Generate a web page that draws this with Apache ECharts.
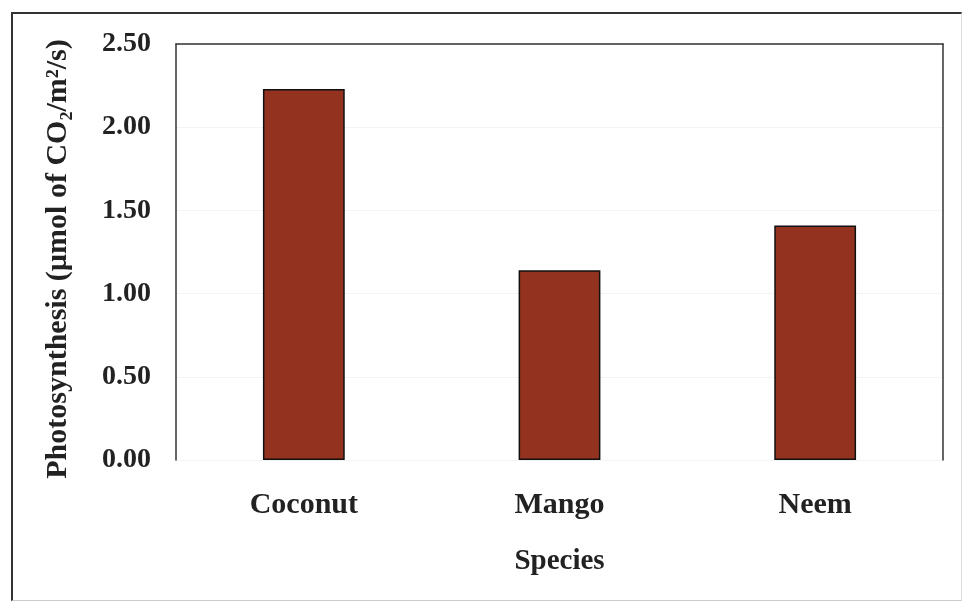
<!DOCTYPE html>
<html>
<head>
<meta charset="utf-8">
<script src="https://cdn.jsdelivr.net/npm/echarts@6/dist/echarts.min.js"></script>
<style>
html,body{margin:0;padding:0;background:#fff;}
#chart{width:962px;height:601px;position:absolute;left:0;top:0;}
#frame{position:absolute;left:11px;top:12px;width:948px;height:586px;border-left:2px solid #333;border-top:2px solid #333;border-right:1px solid #ddd;border-bottom:1px solid #ccc;pointer-events:none;}
</style>
</head>
<body>
<div id="chart"></div>
<div id="frame"></div>
<script>
const categories = ['Coconut', 'Mango', 'Neem'];
const photosynthesis = [2.23, 1.14, 1.41];
const yTickLabels = ['0.00', '0.50', '1.00', '1.50', '2.00', '2.50'];

const font = '"Liberation Serif", "DejaVu Serif", serif';
const chart = echarts.init(document.getElementById('chart'));
chart.setOption({
  animation: false,
  backgroundColor: '#fff',
  grid: { left: 176, right: 19, top: 44, bottom: 141 },
  xAxis: [{
    type: 'category',
    data: categories,
    position: 'bottom',
    axisLine: { show: false },
    axisTick: { show: false },
    axisLabel: { fontFamily: font, fontWeight: 'bold', fontSize: 30, color: '#222', margin: 30 },
    name: 'Species',
    nameLocation: 'middle',
    nameGap: 87,
    nameTextStyle: { fontFamily: font, fontWeight: 'bold', fontSize: 29, color: '#222' }
  }, {
    type: 'category',
    data: categories,
    position: 'top',
    axisLine: { show: true, onZero: false, lineStyle: { color: '#333', width: 1.5 } },
    axisTick: { show: false },
    axisLabel: { show: false }
  }],
  yAxis: [{
    type: 'value',
    min: 0, max: 2.5, interval: 0.5,
    axisLine: { show: true, onZero: false, lineStyle: { color: '#333', width: 1.5 } },
    axisTick: { show: false },
    splitLine: { show: true, lineStyle: { color: '#f3f3f3', width: 1 } },
    axisLabel: {
      fontFamily: font, fontWeight: 'bold', fontSize: 28, color: '#222', margin: 25,
      formatter: function (v) { return yTickLabels[Math.round(v / 0.5)]; }
    },
    name: 'Photosynthesis (µmol of CO₂/m²/s)',
    nameLocation: 'middle',
    nameGap: 103,
    nameTextStyle: { fontFamily: font, fontWeight: 'bold', fontSize: 30, color: '#222', padding: [0, 14, 0, 0] }
  }, {
    type: 'value',
    min: 0, max: 2.5, interval: 0.5,
    position: 'right',
    axisLine: { show: true, onZero: false, lineStyle: { color: '#333', width: 1.5 } },
    axisTick: { show: false },
    axisLabel: { show: false },
    splitLine: { show: false }
  }],
  series: [{
    type: 'bar',
    data: photosynthesis,
    barWidth: '32%',
    itemStyle: { color: '#93321f', borderColor: '#111', borderWidth: 1.5 }
  }]
});
</script>
</body>
</html>
